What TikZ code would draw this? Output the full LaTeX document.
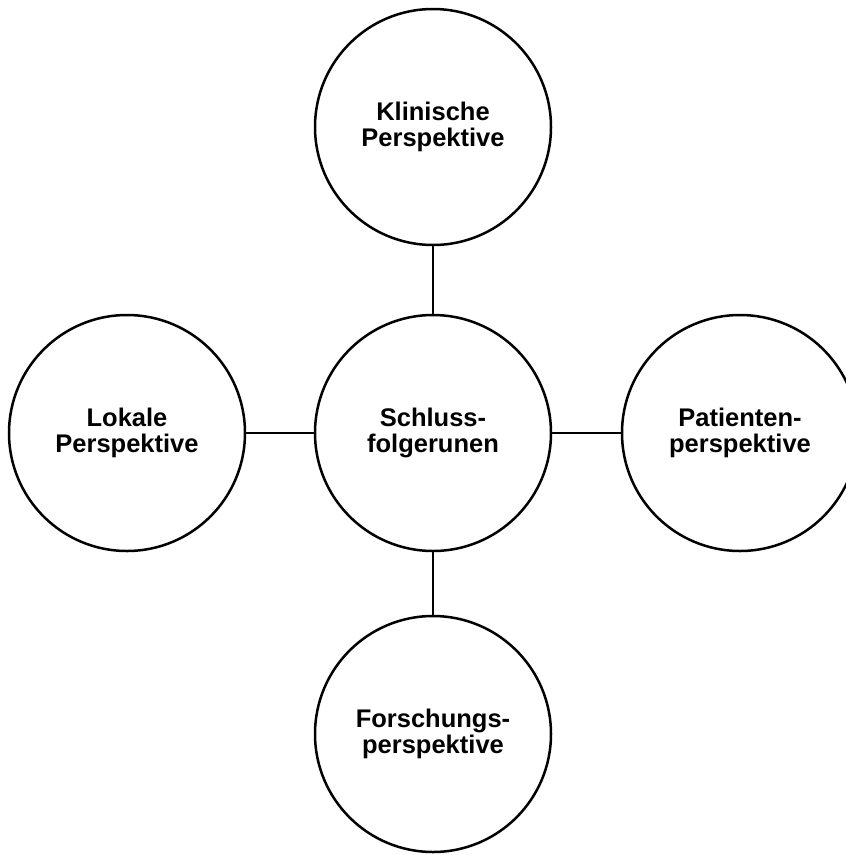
\documentclass[tikz,border=0pt]{standalone}
\usepackage{fontspec}
\setmainfont{Liberation Sans}
\usetikzlibrary{shapes,calc}
\tikzset{
  persp_base/.style = {align=center, inner sep=0pt, text centered, font=\fontsize{25.5}{26}\selectfont\bfseries},
  persp_n/.style = {persp_base, circle, draw=black, line width=2.5pt, minimum size=236pt},
  persp_l/.style = {line width=2.5pt}
}
\begin{document}
\begin{tikzpicture}[x=1pt,y=-1pt]
\useasboundingbox (0,0) rectangle (846,855);
\node [persp_n] (mitte) at (433,433) {Schluss-\\folgerunen};
\node [persp_n] (klinik) at (433,127) {Klinische\\Perspektive};
\node [persp_n] (lokal) at (127,433) {Lokale\\Perspektive};
\node [persp_n] (patient) at (740,433) {Patienten-\\perspektive};
\node [persp_n] (forschung) at (433,734) {Forschungs-\\perspektive};
	\draw [persp_l] (mitte) -- (klinik);
	\draw [persp_l] (mitte) -- (lokal);
	\draw [persp_l] (mitte) -- (patient);
	\draw [persp_l] (mitte) -- (forschung);
\end{tikzpicture}
\end{document}
